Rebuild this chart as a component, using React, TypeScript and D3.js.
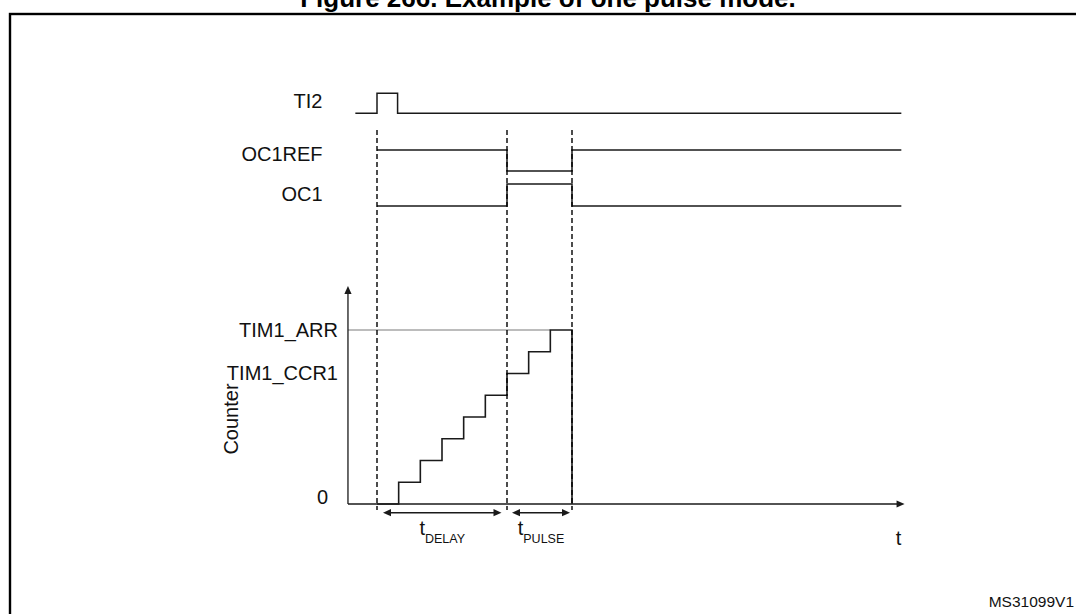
import React from 'react';
import * as d3 from 'd3';

// ---- data ----
const titleText = 'Figure 266. Example of one pulse mode.';
const signalNames = ['TI2', 'OC1REF', 'OC1'];
const ti2Times = [-1, 0, 0.95, 24.2];
const ti2Levels = [0, 1, 0, 0];
const oc1refTimes = [0, 6, 9, 24.2];
const oc1refLevels = [1, 0, 1, 1];
const oc1Times = [0, 6, 9, 24.2];
const oc1Levels = [0, 1, 0, 0];
const counterTimes = [0, 1, 2, 3, 4, 5, 6, 7, 8, 9, 9];
const counterValues = [0, 1, 2, 3, 4, 5, 6, 7, 8, 8, 0];
const markerTimes = [0, 6, 9];
const counterTickValues = [0, 6, 8];
const counterTickLabels = ['0', 'TIM1_CCR1', 'TIM1_ARR'];
const arrValue = 8;
const intervalStarts = [0, 6];
const intervalEnds = [6, 9];
const intervalSubs = ['DELAY', 'PULSE'];
const yAxisLabel = 'Counter';
const xAxisLabel = 't';
const figureId = 'MS31099V1';

// ---- layout ----
const W = 1076;
const H = 614;
const FONT = "'Liberation Sans', Arial, Helvetica, sans-serif";
const INK = '#1a1a1a';
const axisTimeStart = -1.34;
const axisTimeEnd = 24.35;
const signalHigh = [93.3, 150, 184];
const signalLow = [113.3, 171, 206];
const labelRight = 322.5;
const labelBase = [108.3, 161, 200.7];

export default function App() {
  const x = d3.scaleLinear().domain([0, 9]).range([377, 572]);
  const y = d3.scaleLinear().domain([0, arrValue]).range([504, 330]);
  const yTop = 286;
  const xAxisStart = x(axisTimeStart);
  const xAxisEnd = x(axisTimeEnd);

  const signals = [
    { t: ti2Times, v: ti2Levels },
    { t: oc1refTimes, v: oc1refLevels },
    { t: oc1Times, v: oc1Levels },
  ];

  const signalPaths = signals.map((s, i) => {
    const ys = d3.scaleLinear().domain([0, 1]).range([signalLow[i], signalHigh[i]]);
    const pts = s.t.map((t, k) => [t, s.v[k]] as [number, number]);
    const line = d3
      .line<[number, number]>()
      .x((d) => x(d[0]))
      .y((d) => ys(d[1]))
      .curve(d3.curveStepAfter);
    return line(pts) || '';
  });

  const counterPts = counterTimes.map((t, k) => [t, counterValues[k]] as [number, number]);
  const counterPath =
    d3
      .line<[number, number]>()
      .x((d) => x(d[0]))
      .y((d) => y(d[1]))
      .curve(d3.curveStepAfter)(counterPts) || '';

  const arrStepStart = counterTimes[counterValues.indexOf(arrValue)];

  const arrowHead = (tipX: number, tipY: number, dir: 'l' | 'r' | 'u', len = 8, hw = 3.6) => {
    let pts: number[][] = [];
    if (dir === 'r') pts = [[tipX, tipY], [tipX - len, tipY - hw], [tipX - len, tipY + hw]];
    if (dir === 'l') pts = [[tipX, tipY], [tipX + len, tipY - hw], [tipX + len, tipY + hw]];
    if (dir === 'u') pts = [[tipX, tipY], [tipX - hw, tipY + len], [tipX + hw, tipY + len]];
    return <polygon points={pts.map((p) => p.join(',')).join(' ')} fill={INK} />;
  };

  const arrowY = 512.7;

  return (
    <svg
      width={W}
      height={H}
      style={{ position: 'absolute', left: 0, top: 0, background: '#fff' }}
      fontFamily={FONT}
    >
      <rect x={0} y={0} width={W} height={H} fill="#fff" />
      {/* title (cut off at top in the source) */}
      <text x={548} y={7} textAnchor="middle" fontWeight="bold" fontSize={26} fill="#000">
        {titleText}
      </text>
      {/* frame */}
      <rect x={10} y={14} width={1200} height={800} fill="none" stroke="#000" strokeWidth={2.4} />

      {/* signal labels */}
      {signalNames.map((n, i) => (
        <text key={n} x={labelRight} y={labelBase[i]} textAnchor="end" fontSize={20} fill="#111">
          {n}
        </text>
      ))}

      {/* signal waveforms */}
      {signalPaths.map((p, i) => (
        <path key={i} d={p} fill="none" stroke={INK} strokeWidth={1.5} />
      ))}

      {/* ARR reference line */}
      <line x1={xAxisStart} x2={x(arrStepStart)} y1={y(arrValue)} y2={y(arrValue)} stroke="#a6a6a6" strokeWidth={1.4} />

      {/* axes */}
      <line x1={xAxisStart} x2={xAxisStart} y1={y(0)} y2={yTop + 6} stroke={INK} strokeWidth={1.3} />
      {arrowHead(xAxisStart, yTop, 'u')}
      <line x1={xAxisStart} x2={xAxisEnd - 6} y1={y(0)} y2={y(0)} stroke={INK} strokeWidth={1.3} />
      {arrowHead(xAxisEnd, y(0), 'r')}

      {/* counter tick labels */}
      {counterTickValues.map((v, i) => (
        <text
          key={i}
          x={v === 0 ? 328 : 338}
          y={y(v) + (v === 0 ? 0 : 6.5)}
          textAnchor="end"
          fontSize={20}
          fill="#111"
        >
          {counterTickLabels[i]}
        </text>
      ))}

      {/* y axis label */}
      <text
        transform={`translate(238,419) rotate(-90)`}
        textAnchor="middle"
        fontSize={20}
        fill="#111"
      >
        {yAxisLabel}
      </text>

      {/* counter staircase */}
      <path d={counterPath} fill="none" stroke={INK} strokeWidth={1.6} />

      {/* dashed markers */}
      {markerTimes.map((t, i) => (
        <line
          key={i}
          x1={x(t)}
          x2={x(t)}
          y1={130}
          y2={510}
          stroke="#000"
          strokeWidth={1.4}
          strokeDasharray="5,3"
        />
      ))}

      {/* interval arrows */}
      {intervalStarts.map((s, i) => {
        const x1 = x(s) + (i === 0 ? 6 : 5);
        const x2 = x(intervalEnds[i]) - (i === 0 ? 5.5 : 2);
        const mid = (x1 + x2) / 2;
        return (
          <g key={i}>
            <line x1={x1 + 6} x2={x2 - 6} y1={arrowY} y2={arrowY} stroke={INK} strokeWidth={1.4} />
            {arrowHead(x1, arrowY, 'l')}
            {arrowHead(x2, arrowY, 'r')}
            <text x={mid} y={535} textAnchor="middle" fontSize={20} fill="#111">
              t
              <tspan dy={8} fontSize={12.5}>
                {intervalSubs[i]}
              </tspan>
            </text>
          </g>
        );
      })}

      {/* x axis label */}
      <text x={xAxisEnd - 6} y={545} textAnchor="middle" fontSize={20} fill="#111">
        {xAxisLabel}
      </text>

      {/* figure id */}
      <text x={1074} y={606.7} textAnchor="end" fontSize={15.5} fill="#111">
        {figureId}
      </text>
    </svg>
  );
}
